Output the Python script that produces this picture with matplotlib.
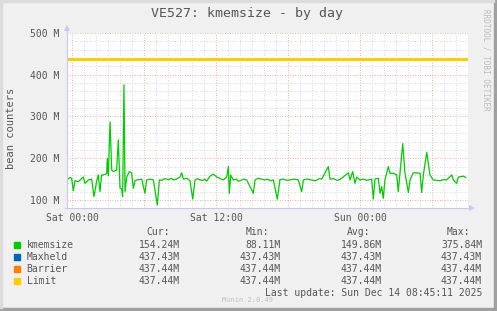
import matplotlib
matplotlib.use('Agg')
import matplotlib.pyplot as plt
from matplotlib.patches import Rectangle

# ---- data (hours since Sat 00:00, values in millions) ----
hours = [-0.44, -0.17, -0.03, 0.11, 0.25, 0.53, 0.94, 1.08, 1.36, 1.64, 1.83, 2.06,
         2.19, 2.33, 2.47, 2.61, 2.89, 2.94, 3.03, 3.17, 3.31, 3.44, 3.72, 3.86,
         4.00, 4.14, 4.22, 4.33, 4.42, 4.56, 4.78, 4.97, 5.11, 5.25, 5.39, 5.81,
         6.08, 6.22, 6.50, 6.78, 7.11, 7.28, 7.50, 7.70, 7.89, 8.10, 8.30, 8.44,
         8.70, 9.00, 9.14, 9.28, 9.56, 9.83,
         10.06, 10.25, 10.45, 10.67, 10.90, 11.05, 11.22, 11.50, 11.78, 12.06, 12.61,
         12.89, 13.03, 13.11, 13.22, 13.44, 13.70, 13.85, 14.00, 14.30, 14.56, 15.11,
         15.25, 15.50, 15.81, 16.08, 16.30, 16.55, 16.78, 17.11, 17.33, 17.60, 17.90,
         18.17, 18.50, 18.86, 19.14, 19.28, 19.60, 19.97, 20.30, 20.60, 20.81, 21.36,
         21.50, 21.80, 22.10, 22.33, 23.03, 23.17,
         23.39, 23.58, 23.72, 24.00, 24.30, 24.56, 24.97, 25.11, 25.25, 25.53, 25.67,
         25.81, 25.94, 26.08, 26.36, 26.50, 26.78, 27.06, 27.19, 27.33, 27.56, 27.75,
         28.03, 28.17, 28.44, 28.72, 29.00, 29.14, 29.28, 29.56, 29.83, 30.11, 30.40,
         30.67, 30.95, 31.22, 31.64, 31.78, 32.06, 32.19, 32.61, 32.81]
kmemsize = [148, 154, 152, 122, 146, 144, 155, 140, 148, 150, 108, 146,
            160, 120, 160, 160, 163, 200, 158, 287, 172, 168, 172, 244,
            128, 126, 108, 376, 120, 155, 168, 165, 128, 146, 148, 150,
            116, 148, 150, 148, 88, 148, 147, 151, 150, 149, 152, 148,
            150, 155, 165, 150, 152, 146,
            102, 148, 151, 148, 147, 150, 145, 157, 162, 155, 148,
            155, 180, 116, 160, 148, 150, 145, 146, 150, 148, 116,
            148, 152, 150, 148, 150, 146, 148, 102, 149, 150, 147,
            148, 150, 148, 120, 148, 150, 148, 146, 151, 150, 180,
            150, 151, 147, 149, 165, 148,
            168, 140, 155, 148, 150, 147, 150, 102, 150, 152, 116,
            132, 104, 148, 180, 164, 164, 160, 120, 164, 235, 164,
            118, 148, 165, 165, 164, 118, 160, 214, 160, 148, 147,
            146, 149, 148, 160, 148, 140, 155, 157, 154]
maxheld = 437.43
barrier = 437.44
limit = 437.44

series_names = ['kmemsize', 'Maxheld', 'Barrier', 'Limit']
series_colors = ['#00CC00', '#0066B3', '#FF8000', '#FFCC00']
cur_vals = ['154.24M', '437.43M', '437.44M', '437.44M']
min_vals = ['88.11M', '437.43M', '437.44M', '437.44M']
avg_vals = ['149.86M', '437.43M', '437.44M', '437.44M']
max_vals = ['375.84M', '437.43M', '437.44M', '437.44M']

y_ticks = [100, 200, 300, 400, 500]
y_tick_labels = ['100 M', '200 M', '300 M', '400 M', '500 M']
x_ticks = [0, 6, 12, 18, 24, 30]
x_tick_labels = ['Sat 00:00', '', 'Sat 12:00', '', 'Sun 00:00', '']

W, H = 497, 311
MONO = 'DejaVu Sans Mono'
TXT = '#555555'

fig = plt.figure(figsize=(W / 100, H / 100), dpi=100, facecolor='#F0F0F0')

def fx(x):
    return x / W

def fy(y):
    return 1 - y / H

# borders
fig.patches.append(Rectangle((0, 0), 1, fy(308), transform=fig.transFigure,
                             color='#A0A0A0', zorder=0))
fig.patches.append(Rectangle((fx(494), 0), 1, 1, transform=fig.transFigure,
                             color='#A0A0A0', zorder=0))
fig.patches.append(Rectangle((0, fy(2)), fx(494), 1, transform=fig.transFigure,
                             color='#DCDCDC', zorder=0))
fig.patches.append(Rectangle((0, fy(308)), fx(2), 1, transform=fig.transFigure,
                             color='#DCDCDC', zorder=0))

ax = fig.add_axes([fx(67), fy(208), (468 - 67) / W, (208 - 33) / H])
ax.set_facecolor('white')

ax.plot(hours, kmemsize, color=series_colors[0], lw=0.9, zorder=3)
x_full = [hours[0], hours[-1]]
ax.plot(x_full, [maxheld, maxheld], color=series_colors[1], lw=1.0, zorder=3)
ax.plot(x_full, [barrier, barrier], color=series_colors[2], lw=1.0, zorder=3)
ax.plot(x_full, [limit, limit], color=series_colors[3], lw=0.75, zorder=3,
        antialiased=False)

ax.set_xlim(-5 / 12, 396 / 12)
ax.set_ylim(80.8, 500)

ax.set_yticks(y_ticks)
ax.set_yticklabels(y_tick_labels)
ax.set_yticks(range(100, 501, 20), minor=True)
ax.set_xticks(x_ticks)
ax.set_xticklabels(x_tick_labels)
ax.set_xticks(range(0, 33, 1), minor=True)

ax.grid(which='minor', color='#CCCCCC', lw=0.6, ls=(0, (1, 2)), zorder=1)
ax.grid(which='major', color='#F09090', lw=0.6, ls=(0, (1, 2)), zorder=2)
ax.tick_params(which='both', length=0)
ax.tick_params(axis='y', pad=5.8, labelsize=7, labelcolor=TXT)
ax.tick_params(axis='x', pad=3.6, labelsize=7, labelcolor=TXT)
for lab in ax.get_xticklabels() + ax.get_yticklabels():
    lab.set_fontfamily(MONO)

for s in ax.spines.values():
    s.set_visible(False)
axc = '#C8C8F0'
ax.plot([0, 0], [0, 1 + 5 / 175], transform=ax.transAxes, color=axc, lw=0.8,
        clip_on=False, zorder=4)
ax.plot([-2 / 401, 1 + 4 / 401], [0, 0], transform=ax.transAxes, color=axc, lw=0.8,
        clip_on=False, zorder=4)
ax.plot([0], [1 + 5 / 175], transform=ax.transAxes, marker='^', ms=4, color=axc,
        clip_on=False, zorder=4, mew=0)
ax.plot([1 + 4 / 401], [0], transform=ax.transAxes, marker='>', ms=4, color=axc,
        clip_on=False, zorder=4, mew=0)

# title and side texts
fig.text(fx(247), fy(14), 'VE527: kmemsize - by day', ha='center', va='center',
         fontsize=9.5, family=MONO, color=TXT)
fig.text(fx(11), fy(128), 'bean counters', ha='center', va='center', rotation=90,
         fontsize=7.5, family=MONO, color=TXT)
fig.text(fx(486), fy(60), 'RRDTOOL / TOBI OETIKER', ha='center', va='center',
         rotation=270, fontsize=5.5, family=MONO, color='#BBBBBB')

# legend
fig.text(fx(146), fy(232), 'Cur:', ha='left', va='center', fontsize=7, family=MONO, color=TXT)
fig.text(fx(246), fy(232), 'Min:', ha='left', va='center', fontsize=7, family=MONO, color=TXT)
fig.text(fx(347), fy(232), 'Avg:', ha='left', va='center', fontsize=7, family=MONO, color=TXT)
fig.text(fx(447), fy(232), 'Max:', ha='left', va='center', fontsize=7, family=MONO, color=TXT)
row_y = [245, 257, 269, 281]
for i, name in enumerate(series_names):
    y = row_y[i]
    fig.patches.append(Rectangle((fx(14), fy(y + 3)), 6 / W, 6 / H,
                                 transform=fig.transFigure, color=series_colors[i]))
    fig.text(fx(26.5), fy(y), name, ha='left', va='center', fontsize=7, family=MONO, color=TXT)
    fig.text(fx(180), fy(y), cur_vals[i], ha='right', va='center', fontsize=7, family=MONO, color=TXT)
    fig.text(fx(281), fy(y), min_vals[i], ha='right', va='center', fontsize=7, family=MONO, color=TXT)
    fig.text(fx(381.5), fy(y), avg_vals[i], ha='right', va='center', fontsize=7, family=MONO, color=TXT)
    fig.text(fx(482), fy(y), max_vals[i], ha='right', va='center', fontsize=7, family=MONO, color=TXT)

fig.text(fx(482), fy(293), 'Last update: Sun Dec 14 08:45:11 2025', ha='right', va='center',
         fontsize=7, family=MONO, color=TXT)
fig.text(fx(247), fy(300.5), 'Munin 2.0.49', ha='center', va='center',
         fontsize=5, family=MONO, color='#C0C0C0')

fig.savefig('out.png', dpi=100, facecolor=fig.get_facecolor())
